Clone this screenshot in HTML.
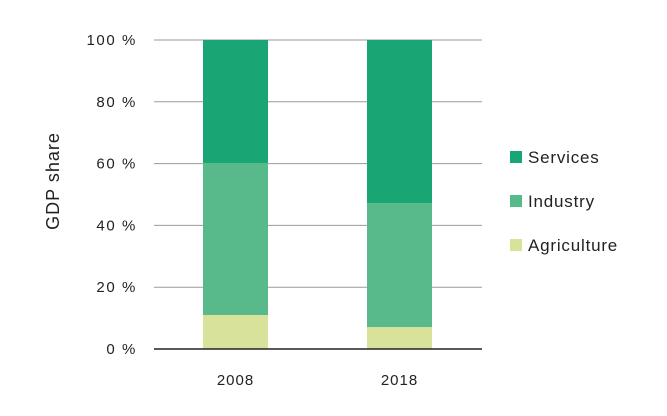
<!DOCTYPE html>
<html><head><meta charset="utf-8"><style>
body{margin:0;background:#fff;width:667px;height:411px;overflow:hidden;font-family:"Liberation Sans",sans-serif}
</style></head><body>
<svg width="667" height="411">
<g id="grid"></g><g id="bars"></g><g id="axis"></g><g id="legend"></g>
<text transform="translate(59,181) rotate(-90)" text-anchor="middle" font-size="18" letter-spacing="1" fill="#222">GDP share</text>
</svg>
<script>
const categories=["2008","2018"];
const agriculture=[11,7.1];
const industry=[49.2,40.1];
const services=[39.8,52.8];
const seriesNames=["Services","Industry","Agriculture"];
const tickValues=[0,20,40,60,80,100];
const tickLabels=["0 %","20 %","40 %","60 %","80 %","100 %"];
const colors={Agriculture:"#d9e29a",Industry:"#58b98a",Services:"#1aa674"};
const NS="http://www.w3.org/2000/svg";
const y0=349,yTop=40,xL=154,xR=482;
const y=v=>y0-(v/100)*(y0-yTop);
const xCenter=i=>235.5+i*164;
const bw=65;
function mk(tag,attrs,parent){const e=document.createElementNS(NS,tag);for(const k in attrs)e.setAttribute(k,attrs[k]);parent.appendChild(e);return e;}
const grid=document.getElementById('grid'),bars=document.getElementById('bars'),axis=document.getElementById('axis'),legend=document.getElementById('legend');
tickValues.forEach((v,i)=>{
 if(v>0){const l=mk('line',{x1:xL,x2:xR,y1:y(v),y2:y(v),stroke:'#9a9a9a','stroke-width':1},grid);
 
 }
 const t=mk('text',{x:137,y:y(v)+5,'text-anchor':'end','font-size':15,'letter-spacing':1.6,fill:'#222'},grid);
 t.textContent=tickLabels[i];
 
 
});
categories.forEach((c,i)=>{
 const stack=[["Agriculture",agriculture[i]],["Industry",industry[i]],["Services",services[i]]];
 let base=0;
 stack.forEach(([n,v])=>{
  const r=mk('rect',{x:xCenter(i)-bw/2,y:y(base+v),width:bw,height:y(base)-y(base+v),fill:colors[n]},bars);
  
  
  base+=v;
 });
 const t=mk('text',{x:xCenter(i),y:385,'text-anchor':'middle','font-size':15,'letter-spacing':1,fill:'#222'},axis);
 t.textContent=c;
 
 
});
const ax=mk('line',{x1:xL,x2:xR,y1:y0,y2:y0,stroke:'#222','stroke-width':1.5},axis);


seriesNames.forEach((n,i)=>{
 const ly=157+i*44;
 const r=mk('rect',{x:510,y:ly-6,width:12,height:12,fill:colors[n]},legend);
 
 
 const t=mk('text',{x:528,y:ly+6,'font-size':17,'letter-spacing':0.8,fill:'#222'},legend);
 t.textContent=n;
 
 
});
</script>
</body></html>
